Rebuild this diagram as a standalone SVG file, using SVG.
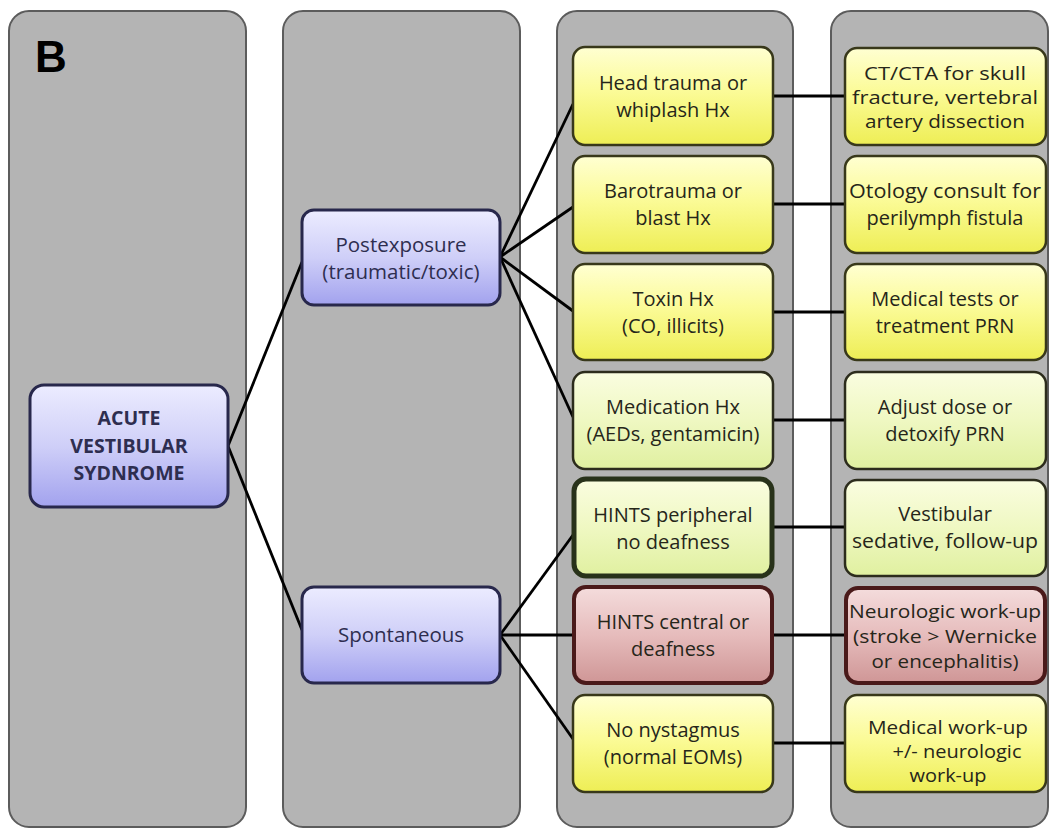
<svg xmlns="http://www.w3.org/2000/svg" width="1053" height="829" viewBox="0 0 1053 829">
<defs>
<linearGradient id="gLav" x1="0" y1="0" x2="0" y2="1">
<stop offset="0" stop-color="#ececff"/><stop offset="0.5" stop-color="#cfcff8"/><stop offset="1" stop-color="#a2a2ee"/>
</linearGradient>
<linearGradient id="gYel" x1="0" y1="0" x2="0" y2="1">
<stop offset="0" stop-color="#ffffd2"/><stop offset="0.45" stop-color="#fbfb98"/><stop offset="1" stop-color="#eeee55"/>
</linearGradient>
<linearGradient id="gGrn" x1="0" y1="0" x2="0" y2="1">
<stop offset="0" stop-color="#fafde0"/><stop offset="0.5" stop-color="#eff8c2"/><stop offset="1" stop-color="#e0f0a0"/>
</linearGradient>
<linearGradient id="gPnk" x1="0" y1="0" x2="0" y2="1">
<stop offset="0" stop-color="#f4dcdc"/><stop offset="0.5" stop-color="#e6bcbc"/><stop offset="1" stop-color="#cf9696"/>
</linearGradient>
<style>
.col{fill:#b4b4b4;stroke:#5c5c5c;stroke-width:2}
.lav{fill:url(#gLav);stroke:#28284c;stroke-width:3}
.yel{fill:url(#gYel);stroke:#38381a;stroke-width:2.5}
.grn{fill:url(#gGrn);stroke:#2c2c1c;stroke-width:2.5}
.grnT{fill:url(#gGrn);stroke:#28321a;stroke-width:5}
.pnk{fill:url(#gPnk);stroke:#4a1a1a;stroke-width:4}
.t{font-family:"Open Sans","Liberation Sans",sans-serif;font-size:20px;fill:#26261a;text-anchor:middle}
.t3{font-family:"Open Sans","Liberation Sans",sans-serif;font-size:18.5px;fill:#26261a;text-anchor:middle}
.tl{font-family:"Open Sans","Liberation Sans",sans-serif;font-size:20.5px;fill:#2e2e50;text-anchor:middle}
.tb{font-family:"Open Sans","Liberation Sans",sans-serif;font-size:19.5px;font-weight:bold;fill:#2e2e50;text-anchor:middle}
.conn{stroke:#000;stroke-width:2.8;fill:none}
</style>
</defs>
<rect width="1053" height="829" fill="#fff"/>
<g id="columns">
<rect class="col" x="9" y="11" width="237" height="816" rx="20"/>
<rect class="col" x="283" y="11" width="237" height="816" rx="20"/>
<rect class="col" x="557" y="11" width="236" height="816" rx="20"/>
<rect class="col" x="831" y="11" width="217" height="816" rx="20"/>
</g>
<text x="35" y="72" font-family="Liberation Sans, Arial, sans-serif" font-size="44" font-weight="bold" fill="#000">B</text>
<g id="connectors">
<line class="conn" x1="228" y1="446" x2="302" y2="262"/>
<line class="conn" x1="228" y1="446" x2="302" y2="630"/>
<line class="conn" x1="500" y1="257" x2="573" y2="104"/>
<line class="conn" x1="500" y1="257" x2="573" y2="207"/>
<line class="conn" x1="500" y1="257" x2="573" y2="311"/>
<line class="conn" x1="500" y1="257" x2="573" y2="417"/>
<line class="conn" x1="500" y1="635" x2="573" y2="535"/>
<line class="conn" x1="500" y1="635" x2="573" y2="635"/>
<line class="conn" x1="500" y1="635" x2="573" y2="739"/>
<line class="conn" x1="773" y1="96" x2="845" y2="96"/>
<line class="conn" x1="773" y1="204" x2="845" y2="204"/>
<line class="conn" x1="773" y1="312" x2="845" y2="312"/>
<line class="conn" x1="773" y1="420" x2="845" y2="420"/>
<line class="conn" x1="773" y1="527" x2="845" y2="527"/>
<line class="conn" x1="773" y1="635" x2="845" y2="635"/>
<line class="conn" x1="773" y1="743" x2="845" y2="743"/>
</g>
<g id="root">
<rect class="lav" x="30" y="385" width="198" height="122" rx="14"/>
<text class="tb" x="129" y="425">ACUTE</text>
<text class="tb" x="129" y="453">VESTIBULAR</text>
<text class="tb" x="129" y="480">SYDNROME</text>
</g>
<g id="postexposure">
<rect class="lav" x="302" y="210" width="198" height="95" rx="12"/>
<text class="tl" x="401" y="252">Postexposure</text>
<text class="tl" x="401" y="279">(traumatic/toxic)</text>
</g>
<g id="spontaneous">
<rect class="lav" x="302" y="587" width="198" height="96" rx="12"/>
<text class="tl" x="401" y="642">Spontaneous</text>
</g>
<g id="head-trauma">
<rect class="yel" x="573" y="47" width="200" height="98" rx="12"/>
<text class="t" x="673" y="90">Head trauma or</text>
<text class="t" x="673" y="117">whiplash Hx</text>
</g>
<g id="barotrauma">
<rect class="yel" x="573" y="156" width="200" height="97" rx="12"/>
<text class="t" x="673" y="198">Barotrauma or</text>
<text class="t" x="673" y="225">blast Hx</text>
</g>
<g id="toxin">
<rect class="yel" x="573" y="264" width="200" height="96" rx="12"/>
<text class="t" x="673" y="306">Toxin Hx</text>
<text class="t" x="673" y="333">(CO, illicits)</text>
</g>
<g id="medication">
<rect class="grn" x="573" y="372" width="200" height="97" rx="12"/>
<text class="t" x="673" y="414">Medication Hx</text>
<text class="t" x="673" y="441">(AEDs, gentamicin)</text>
</g>
<g id="hints-peripheral">
<rect class="grnT" x="574" y="479" width="198" height="97" rx="12"/>
<text class="t" x="673" y="522">HINTS peripheral</text>
<text class="t" x="673" y="549">no deafness</text>
</g>
<g id="hints-central">
<rect class="pnk" x="574" y="587" width="198" height="96" rx="12"/>
<text class="t" x="673" y="629">HINTS central or</text>
<text class="t" x="673" y="656">deafness</text>
</g>
<g id="no-nystagmus">
<rect class="yel" x="573" y="695" width="200" height="97" rx="12"/>
<text class="t" x="673" y="737">No nystagmus</text>
<text class="t" x="673" y="764">(normal EOMs)</text>
</g>
<g id="ct-cta">
<rect class="yel" x="845" y="48" width="201" height="97" rx="12"/>
<text class="t3" x="945" y="80" textLength="162" lengthAdjust="spacingAndGlyphs">CT/CTA for skull</text>
<text class="t3" x="945" y="104" textLength="186" lengthAdjust="spacingAndGlyphs">fracture, vertebral</text>
<text class="t3" x="945" y="128" textLength="160" lengthAdjust="spacingAndGlyphs">artery dissection</text>
</g>
<g id="otology">
<rect class="yel" x="845" y="156" width="201" height="97" rx="12"/>
<text class="t" x="945" y="198" textLength="192" lengthAdjust="spacingAndGlyphs">Otology consult for</text>
<text class="t" x="945" y="225">perilymph fistula</text>
</g>
<g id="medical-tests">
<rect class="yel" x="845" y="264" width="201" height="96" rx="12"/>
<text class="t" x="945" y="306">Medical tests or</text>
<text class="t" x="945" y="333">treatment PRN</text>
</g>
<g id="adjust-dose">
<rect class="grn" x="845" y="372" width="201" height="97" rx="12"/>
<text class="t" x="945" y="414">Adjust dose or</text>
<text class="t" x="945" y="441">detoxify PRN</text>
</g>
<g id="vestibular-sedative">
<rect class="grn" x="845" y="480" width="201" height="96" rx="12"/>
<text class="t" x="945" y="521">Vestibular</text>
<text class="t" x="945" y="548" textLength="186" lengthAdjust="spacingAndGlyphs">sedative, follow-up</text>
</g>
<g id="neurologic">
<rect class="pnk" x="846" y="588" width="199" height="95" rx="12"/>
<text class="t3" x="945" y="618" textLength="192" lengthAdjust="spacingAndGlyphs">Neurologic work-up</text>
<text class="t3" x="945" y="643" textLength="184" lengthAdjust="spacingAndGlyphs">(stroke &gt; Wernicke</text>
<text class="t3" x="945" y="668" textLength="147" lengthAdjust="spacingAndGlyphs">or encephalitis)</text>
</g>
<g id="medical-workup">
<rect class="yel" x="845" y="695" width="201" height="97" rx="12"/>
<text class="t3" x="948" y="734" textLength="160" lengthAdjust="spacingAndGlyphs">Medical work-up</text>
<text class="t3" x="957" y="758" textLength="129" lengthAdjust="spacingAndGlyphs">+/- neurologic</text>
<text class="t3" x="948" y="782" textLength="77" lengthAdjust="spacingAndGlyphs">work-up</text>
</g>
</svg>
